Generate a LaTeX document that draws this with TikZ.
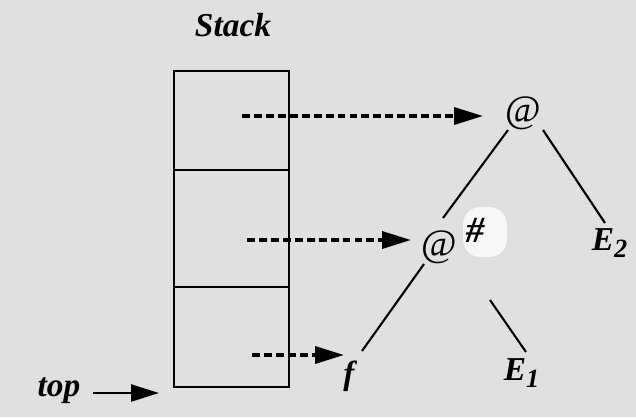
\documentclass[tikz,border=0pt]{standalone}
\usepackage{fontspec}
\setmainfont{Liberation Serif}
\usetikzlibrary{arrows.meta}
\begin{document}
\begin{tikzpicture}[x=0.02cm,y=-0.02cm,
  lbl/.style={font=\fontsize{19}{22}\selectfont\bfseries\itshape, inner sep=0pt},
  app/.style={font=\fontsize{22}{24}\selectfont, inner sep=1pt},
  ptr/.style={line width=2pt, dash pattern=on 4.5pt off 2.3pt,
    -{Triangle[length=0.58cm,width=0.34cm]}},
  solidptr/.style={line width=1.4pt, -{Triangle[length=0.56cm,width=0.34cm]}},
  edge/.style={line width=1.2pt},
  frame/.style={line width=1.4pt}]
  % stippled paper
  \fill[black!12] (0,0) rectangle (636,417);
  \useasboundingbox (0,0) rectangle (636,417);
  % light patch behind the marker
  \fill[black!3, rounded corners=10pt] (463,207) rectangle (507,257);

  % the stack
  \node[lbl] (stacklbl) at (233,25) {Stack};
  \draw[frame] (174,71) rectangle (289,387);
  \draw[frame] (174,170) -- (289,170);
  \draw[frame] (174,287) -- (289,287);
  \coordinate (s1) at (242,116);
  \coordinate (s2) at (247,240);
  \coordinate (s3) at (252,355);

  % the graph
  \node[app] (root) at (523,113) {@};
  \node[app] (mid) at (439,247) {@};
  \node[lbl, font=\fontsize{21}{24}\selectfont\bfseries\itshape] (mark) at (475,230) {\#};
  \node[lbl] (f) at (349,376) {f};
  \node[lbl] (e1) at (522,373) {E\textsubscript{\fontsize{15}{17}\selectfont 1}};
  \node[lbl] (e2) at (610,243) {E\textsubscript{\fontsize{15}{17}\selectfont 2}};

  \draw[edge] (508,130) -- (443,218);
  \draw[edge] (543,130) -- (605,223);
  \draw[edge] (424,264) -- (362,351);
  \draw[edge] (490,300) -- (526,352);

  % pointers from the stack
  \coordinate (t1) at (483,116);
  \coordinate (t2) at (411,240);
  \coordinate (t3) at (344,355);
  \draw[ptr] (s1) -- (t1);
  \draw[ptr] (s2) -- (t2);
  \draw[ptr] (s3) -- (t3);

  % top-of-stack marker
  \node[lbl] (top) at (59,391) {top};
  \coordinate (topfrom) at (93,393);
  \coordinate (topto) at (159,393);
  \draw[solidptr] (topfrom) -- (topto);
\end{tikzpicture}
\end{document}
